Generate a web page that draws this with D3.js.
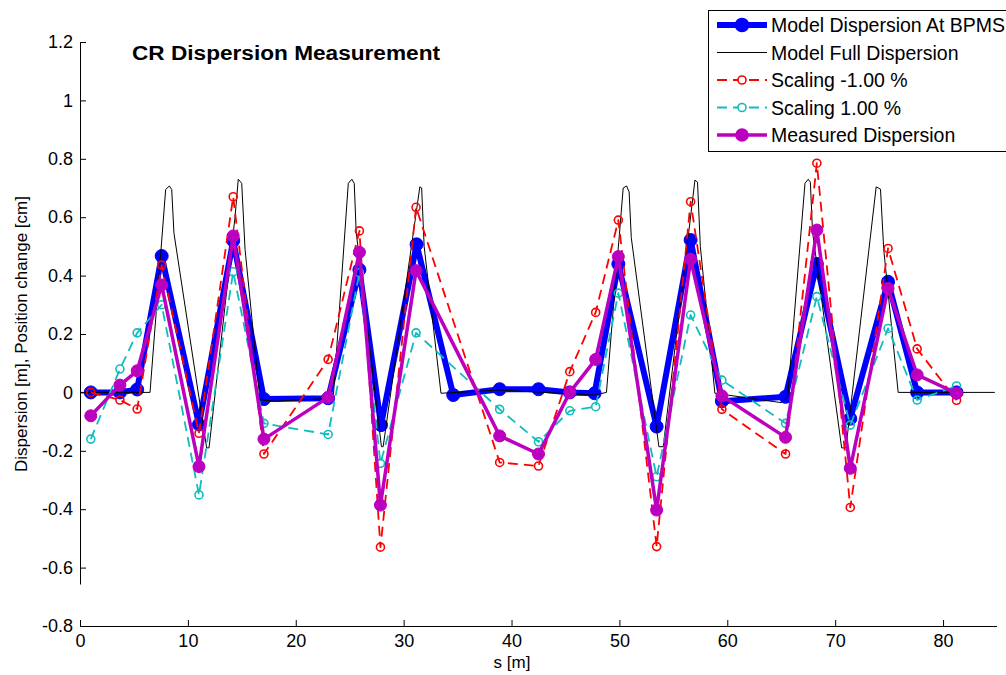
<!DOCTYPE html>
<html><head><meta charset="utf-8">
<script src="https://cdn.jsdelivr.net/npm/d3@7/dist/d3.min.js"></script>
<style>
body{margin:0;background:#fff;}
text{font-family:"Liberation Sans",Arial,sans-serif;}
</style></head>
<body><svg id="c" width="1006" height="675"></svg>
<script>
// ---- data ----
const sModel = [1.0,3.7,5.3,7.57,11.03,14.2,17.05,23.0,25.9,27.9,31.2,34.6,38.9,42.5,45.4,47.7,49.9,53.45,56.6,59.5,65.4,68.3,71.4,74.9,77.6,81.25];
const dModel = [0,0,0.01,0.467,-0.11,0.52,-0.023,-0.02,0.42,-0.112,0.507,-0.009,0.011,0.011,0.0,-0.003,0.44,-0.117,0.522,-0.03,-0.015,0.44,-0.09,0.379,0,0];

const sMeas = [1.0,3.7,5.3,7.57,11.03,14.2,17.05,23.0,25.9,27.85,31.15,38.9,42.5,45.4,47.8,49.9,53.45,56.6,59.5,65.4,68.3,71.4,74.9,77.6,81.25];
const measured   = [-0.08,0.025,0.074,0.368,-0.254,0.536,-0.16,-0.017,0.48,-0.386,0.417,-0.149,-0.211,0.0,0.113,0.465,-0.403,0.456,-0.012,-0.154,0.556,-0.26,0.356,0.06,-0.003];
const scaleMinus = [0,-0.026,-0.057,0.436,-0.14,0.67,-0.211,0.113,0.553,-0.53,0.634,-0.24,-0.252,0.071,0.274,0.59,-0.528,0.653,-0.058,-0.211,0.785,-0.394,0.493,0.149,-0.027];
const scalePlus  = [-0.16,0.08,0.204,0.30,-0.351,0.413,-0.106,-0.144,0.41,-0.243,0.204,-0.058,-0.169,-0.063,-0.049,0.34,-0.289,0.265,0.042,-0.106,0.328,-0.112,0.219,-0.026,0.022];

const sFull = [0,6.49,7.94,8.28,8.5,8.71,11.74,11.96,14.37,14.67,14.99,15.3,16.68,18.1,23.47,24.87,25.2,25.42,25.6,27.94,28.1,31.5,31.67,31.9,33.46,38.8,47.7,48.8,50.35,50.66,50.9,51.1,53.66,54.06,57.0,57.24,57.5,58.85,65.0,65.6,67.2,67.5,67.7,67.9,70.6,71.0,73.8,74.2,74.5,75.84,84.8];
const dFull = [0,0,0.695,0.707,0.695,0.545,-0.19,-0.19,0.60,0.73,0.716,0.49,-0.026,-0.03,-0.02,0.716,0.73,0.716,0.55,-0.186,-0.186,0.704,0.70,0.50,-0.003,0.008,-0.009,0,0.70,0.707,0.687,0.53,-0.186,-0.186,0.727,0.72,0.50,-0.003,-0.035,-0.015,0.716,0.73,0.72,0.55,-0.19,-0.19,0.704,0.696,0.49,0,0];

const xTicks = [0,10,20,30,40,50,60,70,80];
const yTicks = [-0.8,-0.6,-0.4,-0.2,0,0.2,0.4,0.6,0.8,1,1.2];
const yTickLabels = ["-0.8","-0.6","-0.4","-0.2","0","0.2","0.4","0.6","0.8","1","1.2"];

const legendLabels = ["Model Dispersion At BPMS","Model Full Dispersion","Scaling -1.00 %","Scaling 1.00 %","Measured Dispersion"];

// ---- chart ----
const svg = d3.select("#c");
const x = d3.scaleLinear().domain([0,85]).range([80,997]);
const y = d3.scaleLinear().domain([-0.8,1.2]).range([626,42]);

const styles = [
  {color:"#0000ff", w:6, dash:null, marker:"filled", r:6.5},
  {color:"#000000", w:1, dash:null, marker:null},
  {color:"#ff0000", w:1.8, dash:"10,6", marker:"open", r:4},
  {color:"#10bcbc", w:1.8, dash:"10,6", marker:"open", r:4},
  {color:"#bb00c0", w:3.5, dash:null, marker:"filled", r:6}
];

const series = [
  {xs:sModel, ys:dModel, st:styles[0]},
  {xs:sFull, ys:dFull, st:styles[1]},
  {xs:sMeas, ys:scaleMinus, st:styles[2]},
  {xs:sMeas, ys:scalePlus, st:styles[3]},
  {xs:sMeas, ys:measured, st:styles[4]}
];

// axes
const gx = svg.append("g").attr("transform","translate(0,626)")
  .call(d3.axisBottom(x).tickValues(xTicks).tickSize(-6).tickPadding(8).tickFormat(d3.format("d")));
const gy = svg.append("g").attr("transform","translate(80,0)")
  .call(d3.axisLeft(y).tickValues(yTicks).tickSize(-6).tickPadding(7).tickFormat((d,i)=>yTickLabels[i]));
[gx,gy].forEach(g=>{
  g.select(".domain").attr("stroke","#000").attr("stroke-width",1);
  g.selectAll(".tick line").attr("stroke","#000");
  g.selectAll(".tick text").attr("font-size","18px").attr("fill","#000").attr("font-family","Liberation Sans, Arial, sans-serif");
});
gx.select(".domain").attr("d","M80.5,0.5H997");
gy.select(".domain").attr("d","M0.5,42H0.5V584.5");

// lines
const line = d3.line().x(d=>x(d[0])).y(d=>y(d[1]));
const plot = svg.append("g");
series.forEach(s=>{
  const pts = s.xs.map((v,i)=>[v,s.ys[i]]);
  plot.append("path").datum(pts).attr("d",line).attr("fill","none")
    .attr("stroke",s.st.color).attr("stroke-width",s.st.w)
    .attr("stroke-dasharray",s.st.dash).attr("stroke-linejoin","round");
  if(s.st.marker){
    plot.selectAll(null).data(pts).enter().append("circle")
      .attr("cx",d=>x(d[0])).attr("cy",d=>y(d[1])).attr("r",s.st.r)
      .attr("fill",s.st.marker==="filled"?s.st.color:"none")
      .attr("stroke",s.st.color).attr("stroke-width",s.st.marker==="filled"?1:1.6);
  }
});

// title
svg.append("text").attr("x",132).attr("y",60).attr("font-size","20px").attr("font-weight","bold")
  .attr("textLength",308).attr("lengthAdjust","spacingAndGlyphs").text("CR Dispersion Measurement");

// axis labels
svg.append("text").attr("x",512).attr("y",668).attr("text-anchor","middle").attr("font-size","17px").text("s [m]");
svg.append("text").attr("transform","translate(27,334) rotate(-90)").attr("text-anchor","middle")
  .attr("font-size","17px").text("Dispersion [m], Position change [cm]");

// legend
const lg = svg.append("g");
lg.append("rect").attr("x",708.5).attr("y",10.5).attr("width",310).attr("height",141)
  .attr("fill","#fff").attr("stroke","#000").attr("stroke-width",1);
const rowY = d3.scaleLinear().domain([0,4]).range([25,135]);
legendLabels.forEach((lab,i)=>{
  const st = styles[i], yy = rowY(i);
  lg.append("line").attr("x1",717).attr("x2",767).attr("y1",yy).attr("y2",yy)
    .attr("stroke",st.color).attr("stroke-width",st.w).attr("stroke-dasharray",st.dash);
  if(st.marker){
    lg.append("circle").attr("cx",742).attr("cy",yy).attr("r",st.r)
      .attr("fill",st.marker==="filled"?st.color:"#fff").attr("stroke",st.color).attr("stroke-width",1.6);
  }
  lg.append("text").attr("x",771).attr("y",yy+7).attr("font-size","19.5px").text(lab);
});
</script></body></html>
